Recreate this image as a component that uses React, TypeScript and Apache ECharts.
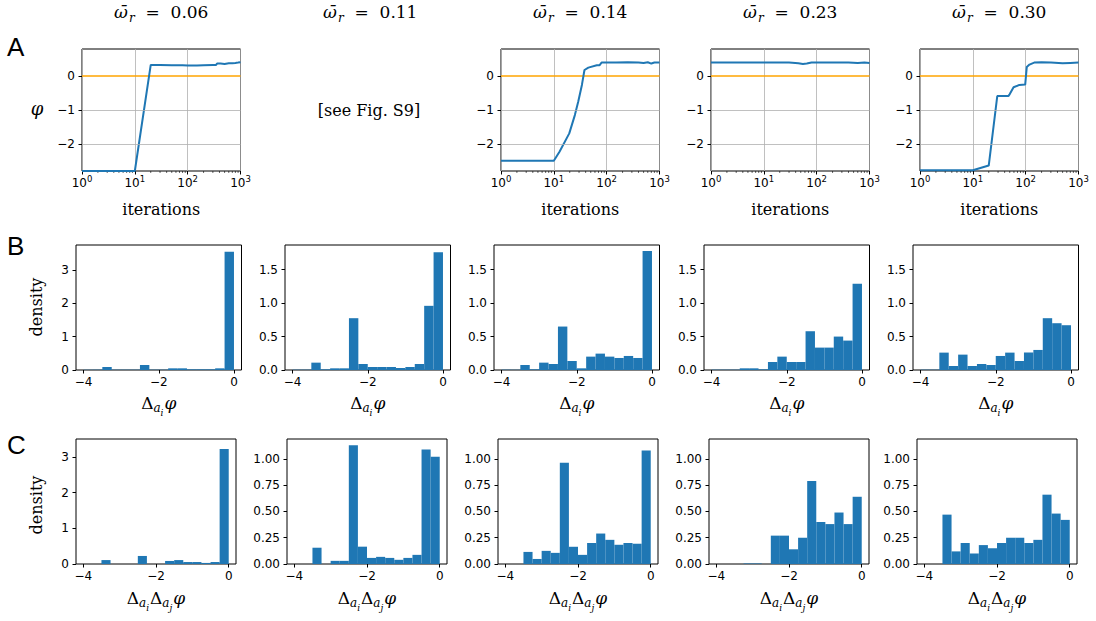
import React, { useEffect, useRef } from "react";
import * as echarts from "echarts";

// ---------------- data ----------------
const OMEGA_BAR = ["0.06", "0.11", "0.14", "0.23", "0.30"];
const PHI_TICKS = [-2, -1, 0];
const DELTA_TICKS = [-4, -2, 0];
const DENS_B1_TICKS = [0, 1, 2, 3];
const DENS_B_TICKS = [0, 0.5, 1.0, 1.5];
const DENS_C1_TICKS = [0, 1, 2, 3];
const DENS_C_TICKS = [0, 0.25, 0.5, 0.75, 1.0];
const ITER_MINOR = [2, 3, 4, 5, 6, 7, 8, 9, 20, 30, 40, 50, 60, 70, 80, 90, 200, 300, 400, 500, 600, 700, 800, 900];
const BIN_EDGES = [-4, -3.75, -3.5, -3.25, -3, -2.75, -2.5, -2.25, -2, -1.75, -1.5, -1.25, -1, -0.75, -0.5, -0.25, 0];

// phi vs iterations (A row)
const PHI_RUN_006: [number, number][] = [
  [1, -2.8], [10, -2.8], [20, 0.33], [30, 0.33], [50, 0.32], [80, 0.32], [100, 0.31], [150, 0.31], [200, 0.32],
  [300, 0.33], [345, 0.33], [360, 0.37], [420, 0.37], [500, 0.36], [600, 0.38], [700, 0.38], [800, 0.39], [900, 0.4], [1000, 0.41],
];
const PHI_RUN_014: [number, number][] = [
  [1, -2.5], [10, -2.5], [12.8, -2.23], [19.6, -1.69], [25, -1.15], [29, -0.75], [34, -0.26], [38, 0.18], [45, 0.25],
  [65, 0.32], [73, 0.32], [80, 0.4], [150, 0.4], [250, 0.41], [400, 0.4], [500, 0.39], [600, 0.41], [700, 0.37], [800, 0.4], [1000, 0.4],
];
const PHI_RUN_023: [number, number][] = [
  [1, 0.4], [10, 0.4], [30, 0.4], [45, 0.38], [55, 0.36], [65, 0.37], [80, 0.4], [200, 0.4], [400, 0.4], [600, 0.39], [800, 0.4], [1000, 0.39],
];
const PHI_RUN_030: [number, number][] = [
  [1, -2.78], [10, -2.78], [20, -2.64], [29, -0.59], [40, -0.59], [47, -0.59], [50, -0.53], [59, -0.33], [76, -0.26],
  [98, -0.25], [105, 0.27], [118, 0.34], [145, 0.4], [200, 0.41], [300, 0.4], [500, 0.38], [700, 0.39], [1000, 0.4],
];

// histograms of Δ_{a_i} φ (B row)
const B_DENS_006 = [0.01, 0.01, 0.09, 0.01, 0.01, 0.01, 0.15, 0.01, 0.01, 0.05, 0.05, 0.02, 0.02, 0.02, 0.05, 3.55];
const B_DENS_011 = [0.005, 0.005, 0.11, 0.01, 0.025, 0.025, 0.775, 0.09, 0.045, 0.045, 0.045, 0.03, 0.045, 0.09, 0.96, 1.76];
const B_DENS_014 = [0.005, 0.005, 0.075, 0.01, 0.11, 0.09, 0.65, 0.135, 0.025, 0.2, 0.245, 0.2, 0.18, 0.21, 0.18, 1.78];
const B_DENS_023 = [0.005, 0.005, 0.005, 0.025, 0.025, 0.01, 0.12, 0.2, 0.12, 0.12, 0.58, 0.335, 0.335, 0.5, 0.44, 1.29];
const B_DENS_030 = [0.005, 0.005, 0.26, 0.06, 0.23, 0.06, 0.09, 0.075, 0.21, 0.26, 0.135, 0.26, 0.3, 0.775, 0.7, 0.67];

// histograms of Δ_{a_i}Δ_{a_j} φ (C row)
const C_DENS_006 = [0, 0, 0.11, 0, 0, 0, 0.225, 0, 0, 0.085, 0.11, 0.055, 0.055, 0.03, 0.055, 3.22];
const C_DENS_011 = [0, 0, 0.155, 0, 0.03, 0.03, 1.13, 0.165, 0.058, 0.068, 0.058, 0.04, 0.058, 0.087, 1.09, 1.02];
const C_DENS_014 = [0, 0, 0.115, 0.048, 0.125, 0.106, 0.965, 0.164, 0.087, 0.2, 0.29, 0.23, 0.183, 0.2, 0.193, 1.08];
const C_DENS_023 = [0, 0, 0, 0.005, 0.005, 0, 0.27, 0.27, 0.14, 0.25, 0.79, 0.4, 0.38, 0.49, 0.38, 0.64];
const C_DENS_030 = [0, 0, 0.47, 0.12, 0.2, 0.1, 0.18, 0.15, 0.2, 0.25, 0.25, 0.2, 0.23, 0.66, 0.48, 0.42];

// ---------------- layout / style ----------------
const SANS = "DejaVu Sans";
const SERIF = "DejaVu Serif";
const BLUE = "#1f77b4";
const A_LEFT = [82, 291, 501, 711, 920];
const A_W = 158.5, A_TOP = 49, A_H = 122;
const B_LEFT = [76, 285, 494, 704, 913];
const B_W = 165.5, B_TOP = 245, B_H = 125;
const C_LEFT = [76, 287, 498, 709, 917];
const C_W = 160, C_TOP = 439, C_H = 125;
const TICK_FS = 12;

const minusFmt = (v: number) => String(v).replace("-", "\u2212");

const LOG_RICH = {
  b: { fontFamily: SANS, fontSize: 12, lineHeight: 13, verticalAlign: "top", padding: [3, 0, 0, 0], color: "#000" },
  s: { fontFamily: SANS, fontSize: 8.5, lineHeight: 9, verticalAlign: "top", color: "#000" },
};
const TITLE_RICH = {
  w: { fontFamily: SERIF, fontSize: 17, fontStyle: "italic", lineHeight: 22, verticalAlign: "top", fill: "#000" },
  r: { fontFamily: SERIF, fontSize: 12, fontStyle: "italic", lineHeight: 14, verticalAlign: "top", padding: [9, 0, 0, 1], fill: "#000" },
  n: { fontFamily: SERIF, fontSize: 17, lineHeight: 22, verticalAlign: "top", fill: "#000" },
};
const DELTA_RICH = {
  d: { fontFamily: SERIF, fontSize: 17, lineHeight: 22, verticalAlign: "top", fill: "#000" },
  a: { fontFamily: SERIF, fontSize: 12, fontStyle: "italic", lineHeight: 14, verticalAlign: "top", padding: [8, 0, 0, 0], fill: "#000" },
  i: { fontFamily: SERIF, fontSize: 9, fontStyle: "italic", lineHeight: 10, verticalAlign: "top", padding: [14, 1, 0, 0], fill: "#000" },
  p: { fontFamily: SERIF, fontSize: 17, fontStyle: "italic", lineHeight: 22, verticalAlign: "top", fill: "#000" },
};

function buildOption() {
  const grid: any[] = [];
  const xAxis: any[] = [];
  const yAxis: any[] = [];
  const series: any[] = [];
  const graphic: any[] = [];

  const tickStyle = { color: "#000", width: 1 };
  const hiddenLine = { show: false, onZero: false };
  const addGrid = (left: number, top: number, width: number, height: number) => {
    grid.push({ left, top, width, height, show: true, borderColor: "#000", borderWidth: 1, backgroundColor: "transparent" });
    return grid.length - 1;
  };

  // ---- row A ----
  const runs: { [k: number]: [number, number][] } = { 0: PHI_RUN_006, 2: PHI_RUN_014, 3: PHI_RUN_023, 4: PHI_RUN_030 };
  [0, 2, 3, 4].forEach((c) => {
    const gi = addGrid(A_LEFT[c], A_TOP, A_W, A_H);
    xAxis.push({
      gridIndex: gi, type: "log", logBase: 10, min: 1, max: 1000,
      axisLine: hiddenLine,
      axisTick: { show: true, length: 3.5, lineStyle: tickStyle },
      axisLabel: { formatter: (v: number) => `{b|10}{s|${Math.round(Math.log10(v))}}`, rich: LOG_RICH, margin: 3, color: "#000" },
      splitLine: { show: true, lineStyle: { color: "#b0b0b0", width: 0.8 } },
    });
    yAxis.push({
      gridIndex: gi, type: "value", min: -2.8, max: 0.8,
      axisLine: hiddenLine,
      axisTick: { show: true, length: 3.5, customValues: PHI_TICKS, lineStyle: tickStyle },
      axisLabel: { customValues: PHI_TICKS, formatter: minusFmt, fontFamily: SANS, fontSize: TICK_FS, color: "#000", margin: 7 },
      splitLine: { show: false },
    });
    series.push({
      type: "line", xAxisIndex: gi, yAxisIndex: gi, data: [[1, -1], [1000, -1]], symbol: "none", silent: true, z: 1,
      lineStyle: { width: 0, opacity: 0 },
      markLine: {
        silent: true, symbol: "none", label: { show: false }, animation: false,
        lineStyle: { color: "#b0b0b0", width: 0.8, type: "solid" },
        data: PHI_TICKS.filter((v) => v !== 0).map((v) => ({ yAxis: v })),
      },
    });
    series.push({
      type: "line", xAxisIndex: gi, yAxisIndex: gi, data: [[1, 0], [1000, 0]], symbol: "none", silent: true, z: 2,
      lineStyle: { color: "#ffa500", width: 1.5 },
    });
    series.push({
      type: "line", xAxisIndex: gi, yAxisIndex: gi, data: runs[c], symbol: "none", silent: true, z: 3,
      lineStyle: { color: BLUE, width: 2 },
    });
    series.push({
      type: "custom", xAxisIndex: gi, yAxisIndex: gi, silent: true, clip: false,
      data: ITER_MINOR.map((v) => [v, -2.8]),
      encode: { x: 0, y: 1 },
      renderItem: (_p: any, api: any) => {
        const p = api.coord([api.value(0), api.value(1)]);
        return { type: "line", shape: { x1: p[0], y1: p[1], x2: p[0], y2: p[1] + 2 }, style: { stroke: "#000", lineWidth: 0.6 } };
      },
    });
    graphic.push({
      type: "text", x: A_LEFT[c] + A_W / 2, y: 209,
      style: { text: "iterations", fontFamily: SERIF, fontSize: 16, fill: "#000", align: "center", verticalAlign: "middle" },
    });
  });

  // ---- histogram panels ----
  const addHist = (left: number, top: number, width: number, height: number, values: number[], ymax: number, ticks: number[], fmt: (v: number) => string) => {
    const gi = addGrid(left, top, width, height);
    xAxis.push({
      gridIndex: gi, type: "value", min: -4.2, max: 0.2,
      axisLine: hiddenLine,
      axisTick: { show: true, length: 3.5, customValues: DELTA_TICKS, lineStyle: tickStyle },
      axisLabel: { customValues: DELTA_TICKS, formatter: minusFmt, fontFamily: SANS, fontSize: TICK_FS, color: "#000", margin: 6 },
      splitLine: { show: false },
    });
    yAxis.push({
      gridIndex: gi, type: "value", min: 0, max: ymax,
      axisLine: hiddenLine,
      axisTick: { show: true, length: 3.5, customValues: ticks, lineStyle: tickStyle },
      axisLabel: { customValues: ticks, formatter: fmt, fontFamily: SANS, fontSize: TICK_FS, color: "#000", margin: 7 },
      splitLine: { show: false },
    });
    series.push({
      type: "custom", xAxisIndex: gi, yAxisIndex: gi, silent: true,
      data: values.map((v, i) => [BIN_EDGES[i], BIN_EDGES[i + 1], v]),
      encode: { x: [0, 1], y: 2 },
      renderItem: (_p: any, api: any) => {
        const p0 = api.coord([api.value(0), api.value(2)]);
        const p1 = api.coord([api.value(1), 0]);
        return { type: "rect", shape: { x: p0[0], y: p0[1], width: p1[0] - p0[0], height: p1[1] - p0[1] }, style: { fill: BLUE } };
      },
    });
  };

  const bVals = [B_DENS_006, B_DENS_011, B_DENS_014, B_DENS_023, B_DENS_030];
  const cVals = [C_DENS_006, C_DENS_011, C_DENS_014, C_DENS_023, C_DENS_030];
  bVals.forEach((vals, c) => {
    if (c === 0) addHist(B_LEFT[c], B_TOP, B_W, B_H, vals, 3.75, DENS_B1_TICKS, (v) => String(v));
    else addHist(B_LEFT[c], B_TOP, B_W, B_H, vals, 1.87, DENS_B_TICKS, (v) => v.toFixed(1));
    graphic.push({
      type: "text", x: B_LEFT[c] + B_W / 2, y: 394,
      style: { text: "{d|Δ}{a|a}{i|i}{p|φ}", rich: DELTA_RICH, align: "center", verticalAlign: "top" },
    });
  });
  cVals.forEach((vals, c) => {
    if (c === 0) addHist(C_LEFT[c], C_TOP, C_W, C_H, vals, 3.5, DENS_C1_TICKS, (v) => String(v));
    else addHist(C_LEFT[c], C_TOP, C_W, C_H, vals, 1.19, DENS_C_TICKS, (v) => v.toFixed(2));
    graphic.push({
      type: "text", x: C_LEFT[c] + C_W / 2, y: 589,
      style: { text: "{d|Δ}{a|a}{i|i}{d|Δ}{a|a}{i|j}{p|φ}", rich: DELTA_RICH, align: "center", verticalAlign: "top" },
    });
  });

  // ---- titles & labels ----
  OMEGA_BAR.forEach((val, c) => {
    graphic.push({
      type: "text", x: A_LEFT[c] + A_W / 2, y: 3,
      style: { text: `{w|ω\u0304}{r|r}{n|  =  ${val}}`, rich: TITLE_RICH, align: "center", verticalAlign: "top" },
    });
  });
  graphic.push({
    type: "text", x: 369, y: 110,
    style: { text: "[see Fig. S9]", fontFamily: SERIF, fontSize: 16, fill: "#000", align: "center", verticalAlign: "middle" },
  });
  [["A", 47], ["B", 246], ["C", 445]].forEach(([t, y]) => {
    graphic.push({
      type: "text", x: 7, y: y as number,
      style: { text: t as string, fontFamily: "Liberation Sans", fontSize: 26, fill: "#000", align: "left", verticalAlign: "middle" },
    });
  });
  graphic.push({
    type: "text", x: 37, y: 108,
    style: { text: "φ", fontFamily: SERIF, fontStyle: "italic", fontSize: 18, fill: "#000", align: "center", verticalAlign: "middle" },
  });
  [307, 505].forEach((y) => {
    graphic.push({
      type: "text", x: 36, y, rotation: Math.PI / 2,
      style: { text: "density", fontFamily: SERIF, fontSize: 16, fill: "#000", align: "center", verticalAlign: "middle" },
    });
  });

  return { animation: false, backgroundColor: "#fff", grid, xAxis, yAxis, series, graphic };
}

export default function App() {
  const ref = useRef<HTMLDivElement>(null);
  useEffect(() => {
    const chart = echarts.init(ref.current as HTMLDivElement, null, { renderer: "svg" });
    chart.setOption(buildOption() as any);
    return () => chart.dispose();
  }, []);
  return <div ref={ref} style={{ position: "absolute", left: 0, top: 0, width: 1096, height: 621, background: "#fff" }} />;
}
